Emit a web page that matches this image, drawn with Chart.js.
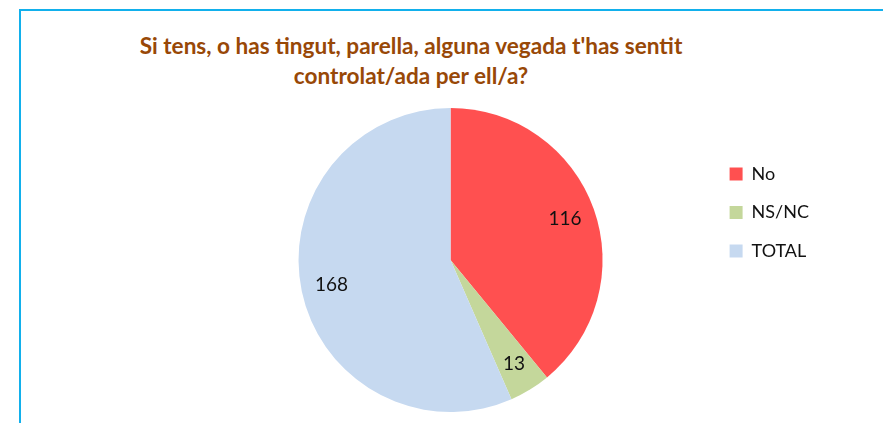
<!DOCTYPE html>
<html lang="ca">
<head>
<meta charset="utf-8">
<title>Control per part de la parella</title>
<script src="https://cdn.jsdelivr.net/npm/chart.js@4.4.1/dist/chart.umd.min.js"></script>
<style>
  html, body { margin: 0; padding: 0; background: #fff; }
  body { width: 883px; height: 423px; position: relative; overflow: hidden; }
  #frame {
    position: absolute; left: 19px; top: 9px;
    width: 900px; height: 440px;
    border: 2px solid #12B0EC;
  }
  #titol {
    position: absolute; left: 0; top: 31px; width: 822px;
    text-align: center;
    font-family: Lato, sans-serif; font-weight: bold;
    font-size: 22.6px; line-height: 30px;
    color: #984807;
  }
  #grafic { position: absolute; left: 0; top: 0; }
</style>
</head>
<body>
<div id="frame"></div>
<div id="titol">Si tens, o has tingut, parella, alguna vegada t'has sentit<br>controlat/ada per ell/a?</div>
<canvas id="grafic" width="883" height="423"></canvas>
<script>
const categories = ['No', 'NS/NC', 'TOTAL'];
const respostes = [116, 13, 168];
const colors = ['#FF5050', '#C4D79B', '#C6D9F0'];

// values written inside each slice, a bit out from the middle
const sliceLabels = {
    id: 'sliceLabels',
    afterDatasetsDraw(chart) {
        const ctx = chart.ctx;
        const meta = chart.getDatasetMeta(0);
        ctx.save();
        ctx.font = '19px Lato, sans-serif';
        ctx.fillStyle = '#111';
        ctx.textAlign = 'center';
        ctx.textBaseline = 'middle';
        meta.data.forEach((arc, i) => {
            const p = arc.getProps(['x', 'y', 'startAngle', 'endAngle', 'outerRadius'], true);
            const mid = (p.startAngle + p.endAngle) / 2;
            const r = p.outerRadius * 0.8;
            ctx.fillText(String(respostes[i]), p.x + Math.cos(mid) * r, p.y + Math.sin(mid) * r);
        });
        ctx.restore();
    }
};

new Chart(document.getElementById('grafic'), {
    type: 'pie',
    data: {
        labels: categories,
        datasets: [{
            data: respostes,
            backgroundColor: colors,
            borderWidth: 0
        }]
    },
    options: {
        responsive: false,
        animation: false,
        layout: {
            padding: { top: 108, bottom: 11, left: 192, right: 64 }
        },
        plugins: {
            legend: {
                position: 'right',
                align: 'start',
                title: {
                    display: true,
                    text: '',
                    font: { size: 10 },
                    padding: { top: 24.5, bottom: 0 }
                },
                labels: {
                    boxWidth: 13,
                    boxHeight: 13,
                    padding: 20.5,
                    color: '#111',
                    font: { family: 'Lato, sans-serif', size: 18 }
                }
            },
            tooltip: { enabled: false }
        }
    },
    plugins: [sliceLabels]
});
</script>
</body>
</html>
